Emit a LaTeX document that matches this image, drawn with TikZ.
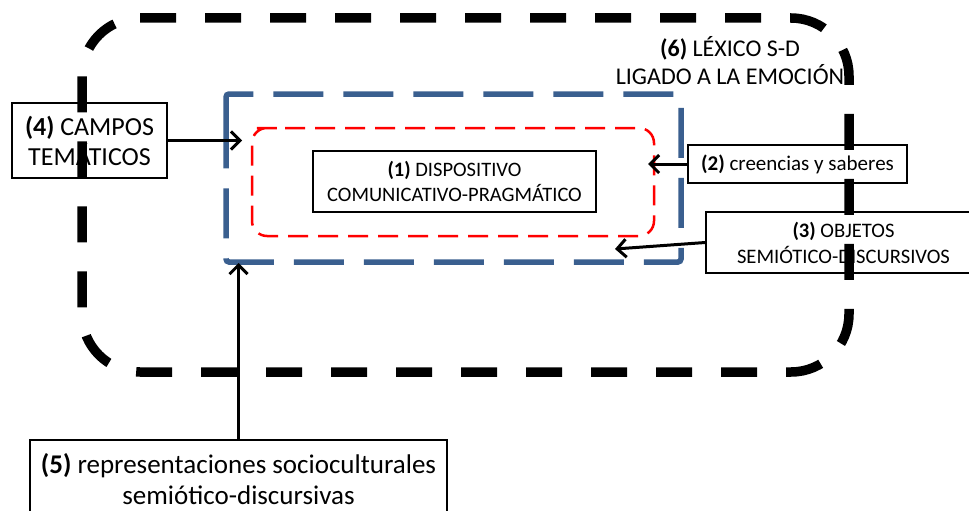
\documentclass[tikz,border=0pt]{standalone}
\usepackage{fontspec}
\setmainfont{Carlito}
\usetikzlibrary{arrows.meta}
\definecolor{azulmarco}{HTML}{3A5F8F}
\tikzset{
  caja/.style={draw, line width=1.5pt, fill=white, align=center, inner sep=0pt},
  flecha/.style={line width=3pt, -{Straight Barb[length=9pt,width=18pt]}},
  marco/.style={line width=9.5pt, dash pattern=on 36pt off 29pt},
}

\begin{document}
\begin{tikzpicture}[x=1pt,y=-1pt]
\clip (0,0) rectangle (969,511);

\draw[azulmarco, line width=5.5pt, dash pattern=on 50pt off 20pt, rounded corners=3pt] (226,121) -- (226,94) -- (681,94) -- (681,262) -- (226,262) -- cycle;
\draw[red, line width=2.5pt, dash pattern=on 20pt off 10pt, rounded corners=15pt] (270,128) -- (654,128) -- (654,236) -- (252,236) -- (252,128) -- cycle;

\node[caja, minimum width=283pt, minimum height=61pt, font=\fontsize{20.5}{25}\selectfont] (disp) at (454.5,181.5) {\textbf{(1)} DISPOSITIVO\\COMUNICATIVO-PRAGMÁTICO};
\node[caja, minimum width=155pt, minimum height=75pt, font=\fontsize{26}{30}\selectfont] (campos) at (89.5,140.5) {\textbf{(4)} CAMPOS\\TEMÁTICOS};
\node[caja, minimum width=219pt, minimum height=38pt, font=\fontsize{21}{24}\selectfont] (creen) at (797.5,164) {\textbf{(2)} creencias y saberes};
\node[caja, minimum width=275pt, minimum height=61pt, font=\fontsize{20.6}{26}\selectfont] (obj) at (843.5,242.5) {\textbf{(3)} OBJETOS\\SEMIÓTICO-DISCURSIVOS};
\node[caja, minimum width=417pt, minimum height=78pt, font=\fontsize{27}{31}\selectfont] (repr) at (238.5,479) {\textbf{(5)} representaciones socioculturales\\semiótico-discursivas};
\node[align=center, font=\fontsize{24}{28}\selectfont] (lexico) at (730,61) {\textbf{(6)} LÉXICO S-D\\LIGADO A LA EMOCIÓN};

\coordinate (pcampos) at (242,140.5);
\coordinate (pcreen) at (648,164);
\coordinate (pobj) at (615,249);
\coordinate (prepr) at (238.5,263);

\draw[flecha] (campos.east) -- (pcampos);
\draw[flecha] (creen.west) -- (pcreen);
\draw[flecha] (obj.west) -- (pobj);
\draw[flecha] (repr.north) -- (prepr);

\draw[marco] (140,18) -- (791,18) arc[start angle=-90, end angle=0, radius=58]
  -- (849,314) arc[start angle=0, end angle=90, radius=58]
  -- (140,372) arc[start angle=90, end angle=180, radius=58]
  -- (82,76) arc[start angle=180, end angle=270, radius=58] -- cycle;

\end{tikzpicture}
\end{document}
